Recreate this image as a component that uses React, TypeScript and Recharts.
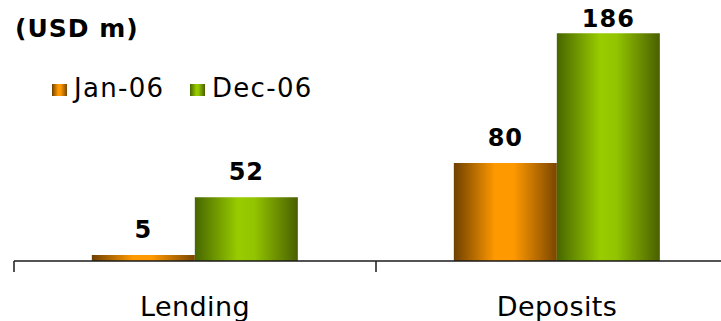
import { BarChart, Bar, XAxis, YAxis, LabelList, ReferenceLine } from 'recharts'

const CATEGORIES = ['Lending', 'Deposits']
const JAN_06 = [5, 80]
const DEC_06 = [52, 186]
const SERIES_NAMES = ['Jan-06', 'Dec-06']

const data = CATEGORIES.map((c, i) => ({ c, jan: JAN_06[i], dec: DEC_06[i] }))

const FONT = '"DejaVu Sans", Verdana, sans-serif'

function Gradients() {
  return (
    <defs>
      <linearGradient id="gOrange" x1="0" y1="0" x2="1" y2="0">
        <stop offset="0%" stopColor="#6e4000" />
        <stop offset="40%" stopColor="#ff9900" />
        <stop offset="58%" stopColor="#ff9900" />
        <stop offset="100%" stopColor="#7a4600" />
      </linearGradient>
      <linearGradient id="gGreen" x1="0" y1="0" x2="1" y2="0">
        <stop offset="0%" stopColor="#476600" />
        <stop offset="42%" stopColor="#99cc00" />
        <stop offset="58%" stopColor="#92c400" />
        <stop offset="100%" stopColor="#4a5f00" />
      </linearGradient>
    </defs>
  )
}

const renderLabel = (props: any) => {
  const { x, y, width, value } = props
  return (
    <text
      x={Number(x) + Number(width) / 2}
      y={Math.max(Number(y) - 17, 27)}
      textAnchor="middle"
      fontFamily={FONT}
      fontWeight="bold"
      fontSize={24}
      letterSpacing={1}
      fill="#000"
    >
      {value}
    </text>
  )
}

export default function App() {
  return (
    <div style={{ position: 'absolute', left: 0, top: 0, width: 721, height: 321, overflow: 'hidden', background: '#fff' }}>
      <BarChart
        width={738}
        height={321}
        data={data}
        margin={{ top: 16, right: 0, bottom: 0, left: 14 }}
        barCategoryGap="21.5%"
        barGap={0}
      >
        <Gradients />
        <XAxis
          dataKey="c"
          height={60}
          axisLine={{ stroke: '#1a1a1a', strokeWidth: 1.5 }}
          tickLine={false}
          tickSize={0}
          tickMargin={36}
          tick={{ fontSize: 27, fill: '#000', fontFamily: FONT, letterSpacing: 0.4 }}
        />
        <YAxis hide domain={[0, 200]} />
        {CATEGORIES.map((c) => (
          <ReferenceLine
            key={c}
            segment={[{ x: c, y: 0 }, { x: c, y: -9 }]}
            position="start"
            ifOverflow="visible"
            stroke="#1a1a1a"
            strokeWidth={1.5}
          />
        ))}
        <Bar dataKey="jan" fill="url(#gOrange)" isAnimationActive={false}>
          <LabelList dataKey="jan" content={renderLabel} />
        </Bar>
        <Bar dataKey="dec" fill="url(#gGreen)" isAnimationActive={false}>
          <LabelList dataKey="dec" content={renderLabel} />
        </Bar>
      </BarChart>
      <svg width={721} height={321} style={{ position: 'absolute', left: 0, top: 0, pointerEvents: 'none' }}>
        <text x={15} y={37} fontFamily={FONT} fontWeight="bold" fontSize={25} letterSpacing={1} fill="#000">(USD m)</text>
        <rect x={52} y={84} width={15} height={12} fill="url(#gOrange)" />
        <text x={74} y={97} fontFamily={FONT} fontSize={26} letterSpacing={1.3} fill="#000">{SERIES_NAMES[0]}</text>
        <rect x={190} y={84} width={15} height={12} fill="url(#gGreen)" />
        <text x={212} y={97} fontFamily={FONT} fontSize={26} letterSpacing={1.3} fill="#000">{SERIES_NAMES[1]}</text>
      </svg>
    </div>
  )
}
